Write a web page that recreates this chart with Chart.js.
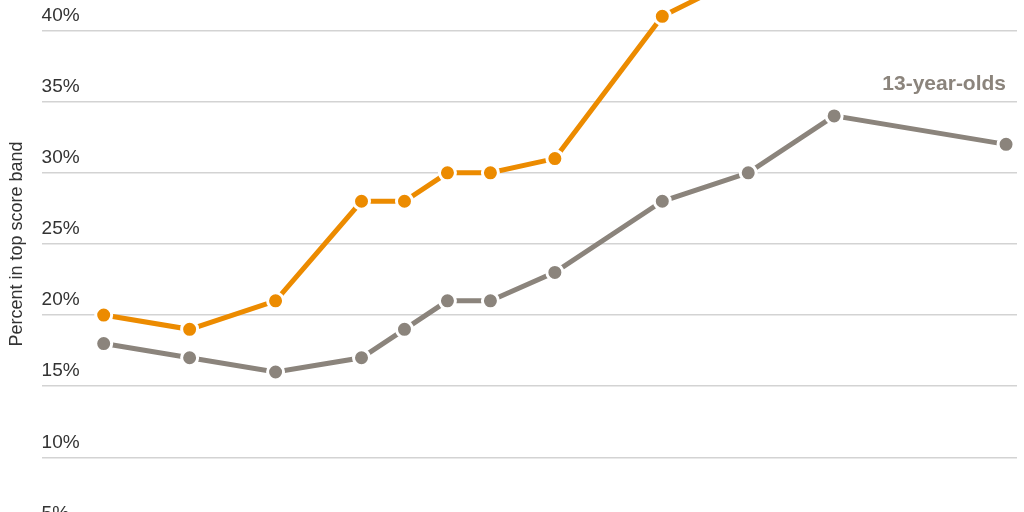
<!DOCTYPE html>
<html>
<head>
<meta charset="utf-8">
<script src="https://cdn.jsdelivr.net/npm/chart.js@4"></script>
<style>
  html, body { margin: 0; padding: 0; background: #fff; overflow: hidden; }
  body { width: 1024px; height: 512px; position: relative; }
  #wrap { position: absolute; left: 0; top: -52.5px; width: 1024px; height: 600px; }
</style>
</head>
<body>
<div id="wrap"><canvas id="chart"></canvas></div>
<script>
// NAEP-style score band shares
const years = [1978, 1982, 1986, 1990, 1992, 1994, 1996, 1999, 2004, 2008, 2012, 2020];
// orange series leaves the top of the frame after 2004; later points not visible
const orangeValues = [20, 19, 21, 28, 28, 30, 30, 31, 41, 44, null, null];
const grayValues = [18, 17, 16, 17, 19, 21, 21, 23, 28, 30, 34, 32];
const grayLabel = '13-year-olds';
const yTicks = [5, 10, 15, 20, 25, 30, 35, 40, 45];

const ORANGE = '#ec8b00';
const GRAY = '#8b847c';
const FONT = '"Liberation Sans", Arial, sans-serif';

const toPoints = (vals) => years.map((yr, i) => ({ x: yr, y: vals[i] })).filter(p => p.y !== null);

// draws the series name next to the end of the gray line
const seriesLabel = {
  id: 'seriesLabel',
  afterDatasetsDraw(chart) {
    const { ctx, scales } = chart;
    ctx.save();
    ctx.font = 'bold 21px ' + FONT;
    ctx.fillStyle = GRAY;
    ctx.textAlign = 'right';
    ctx.textBaseline = 'middle';
    ctx.fillText(grayLabel, scales.x.getPixelForValue(years[years.length - 1]), scales.y.getPixelForValue(36.2));
    ctx.restore();
  }
};

const lineStyle = (color) => ({
  borderColor: color,
  backgroundColor: color,
  borderWidth: 5,
  pointRadius: 8,
  pointHoverRadius: 8,
  pointBackgroundColor: color,
  pointBorderColor: '#fff',
  pointBorderWidth: 3,
  tension: 0,
  fill: false
});

new Chart(document.getElementById('chart'), {
  type: 'line',
  data: {
    datasets: [
      { label: '9-year-olds', data: toPoints(orangeValues), ...lineStyle(ORANGE) },
      { label: grayLabel, data: toPoints(grayValues), ...lineStyle(GRAY) }
    ]
  },
  options: {
    responsive: true,
    maintainAspectRatio: false,
    animation: false,
    layout: { autoPadding: false, padding: { top: 0, right: 7, bottom: 19.5, left: 0 } },
    plugins: { legend: { display: false }, tooltip: { enabled: false } },
    scales: {
      x: {
        type: 'linear',
        display: false,
        min: 1975.11,
        max: 2020.51
      },
      y: {
        min: 5,
        max: 45,
        afterBuildTicks: (axis) => { axis.ticks = yTicks.map(v => ({ value: v })); },
        border: { display: false },
        grid: { color: '#d3d3d3', lineWidth: 1.5, drawTicks: false },
        ticks: {
          mirror: true,
          padding: 0,
          labelOffset: -15,
          color: '#333',
          font: { family: FONT, size: 19 },
          callback: (v) => v + '%'
        },
        title: {
          display: true,
          text: 'Percent in top score band',
          color: '#333',
          font: { family: FONT, size: 18 },
          padding: { top: 6, bottom: 14 }
        }
      }
    }
  },
  plugins: [seriesLabel]
});
</script>
</body>
</html>
